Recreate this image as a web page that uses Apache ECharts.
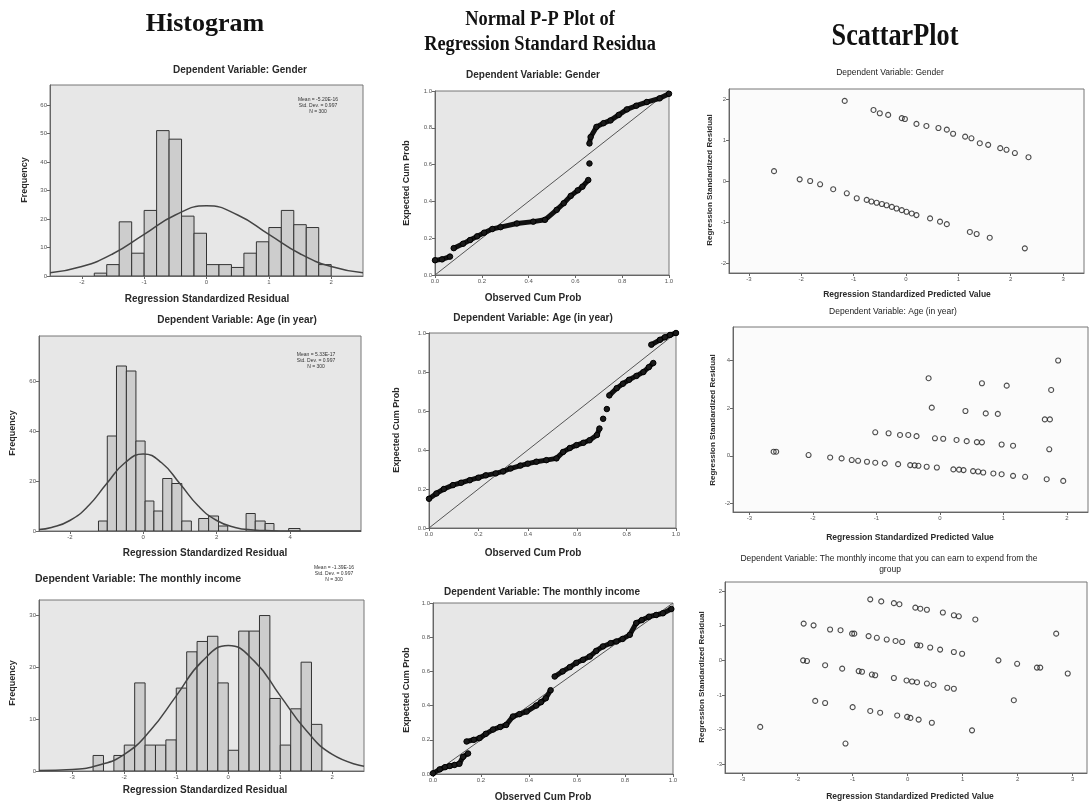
<!DOCTYPE html>
<html><head><meta charset="utf-8">
<script src="https://cdn.jsdelivr.net/npm/echarts@6/dist/echarts.min.js"></script>
<style>html,body{margin:0;padding:0;background:#fff}#c{width:1089px;height:805px}</style>
</head><body><div id="c"></div>
<script>
// ---------- Histogram data (bin edges + frequencies) ----------
const genderHistEdges = [-1.8,-1.6,-1.4,-1.2,-1.0,-0.8,-0.6,-0.4,-0.2,0,0.2,0.4,0.6,0.8,1.0,1.2,1.4,1.6,1.8,2.0];
const genderHistCounts = [1,4,19,8,23,51,48,21,15,4,4,3,8,12,17,23,18,17,4];
const genderCurveX = [-2.51,-2,-1.5,-1,-0.5,0,0.5,1,1.5,2,2.51];
const genderCurveY = [1.1,3.3,7.8,14.6,21.4,24.6,21.4,14.6,7.8,3.3,1.1];

const ageHistEdges = [-1.22,-0.98,-0.73,-0.46,-0.20,0.05,0.29,0.53,0.78,1.05,1.31,1.51,1.78,2.05,2.30,2.80,3.05,3.32,3.56,3.96,4.27];
const ageHistCounts = [4,38,66,64,36,12,8,21,19,4,0,5,6,2,0,7,4,3,0,1];
const ageCurveX = [-2.84,-2.5,-2,-1.5,-1,-0.5,0,0.5,1,1.5,2,2.5,3,3.5,4,5,5.93];
const ageCurveY = [0.6,1.4,4.2,10,18.9,27.3,30.8,27.3,18.9,10,4.2,1.4,0.4,0.1,0,0,0];

const incomeHistEdges = [-2.6,-2.4,-2.2,-2.0,-1.8,-1.6,-1.4,-1.2,-1.0,-0.8,-0.6,-0.4,-0.2,0,0.2,0.4,0.6,0.8,1.0,1.2,1.4,1.6,1.8];
const incomeHistCounts = [3,0,3,5,17,5,5,6,16,23,25,26,17,4,27,27,30,14,5,12,21,9];
const incomeCurveX = [-3.64,-3,-2.5,-2,-1.5,-1,-0.5,0,0.5,1,1.5,2,2.61];
const incomeCurveY = [0.1,0.3,1.1,3.2,7.8,14.5,21.2,24.2,21.2,14.5,7.8,3.2,0.9];

const genderStats = ['Mean = -5.20E-16','Std. Dev. = 0.997','N = 300'];
const ageStats = ['Mean = 5.33E-17','Std. Dev. = 0.997','N = 300'];
const incomeStats = ['Mean = -1.39E-16','Std. Dev. = 0.997','N = 300'];

// ---------- Normal P-P data [observed, expected]; null = gap ----------
const ppGender = [[0,0.08],[0.03,0.085],[0.064,0.10],null,[0.08,0.146],[0.12,0.17],[0.15,0.19],[0.18,0.21],[0.21,0.23],[0.245,0.25],[0.28,0.26],[0.35,0.28],[0.42,0.29],[0.47,0.30],[0.52,0.354],[0.55,0.39],[0.58,0.43],[0.61,0.46],[0.63,0.48],[0.655,0.516],null,[0.66,0.606],null,[0.66,0.715],[0.665,0.75],[0.69,0.805],[0.72,0.825],[0.75,0.84],[0.785,0.87],[0.82,0.90],[0.86,0.92],[0.905,0.94],[0.96,0.96],[1.0,0.985]];
const ppAge = [[0,0.15],[0.03,0.177],[0.06,0.2],[0.097,0.22],[0.13,0.232],[0.165,0.245],[0.2,0.258],[0.23,0.27],[0.27,0.28],[0.30,0.29],[0.33,0.305],[0.37,0.32],[0.40,0.33],[0.435,0.34],[0.475,0.348],[0.516,0.357],[0.543,0.39],[0.57,0.41],[0.597,0.425],[0.625,0.437],[0.65,0.45],[0.68,0.477],[0.69,0.51],null,[0.705,0.56],null,[0.72,0.61],null,[0.73,0.68],[0.76,0.717],[0.785,0.74],[0.81,0.76],[0.84,0.78],[0.868,0.80],[0.89,0.825],[0.908,0.846],null,[0.90,0.94],[0.935,0.965],[0.955,0.978],[0.976,0.99],[1.0,1.0]];
const ppIncome = [[0,0.004],[0.028,0.027],[0.05,0.04],[0.07,0.047],[0.09,0.053],[0.11,0.06],[0.125,0.10],[0.146,0.12],null,[0.14,0.19],[0.17,0.2],[0.194,0.21],[0.22,0.235],[0.25,0.26],[0.28,0.275],[0.305,0.287],[0.333,0.336],[0.36,0.35],[0.39,0.365],[0.43,0.40],[0.45,0.42],[0.47,0.443],[0.49,0.49],null,[0.507,0.57],[0.54,0.60],[0.57,0.625],[0.597,0.65],[0.625,0.668],[0.653,0.687],[0.68,0.72],[0.708,0.746],[0.74,0.765],[0.764,0.775],[0.79,0.79],[0.82,0.814],[0.847,0.883],[0.87,0.9],[0.90,0.92],[0.93,0.93],[0.958,0.94],[0.993,0.965]];
const ppDiagonal = [0, 1];

// ---------- Scatter data [predicted, residual] ----------
const scGender = [[-1.17,1.95],[-0.62,1.73],[-0.5,1.65],[-0.34,1.61],[-0.08,1.53],[-0.02,1.51],[0.2,1.39],[0.39,1.34],[0.62,1.29],[0.78,1.25],[0.9,1.15],[1.13,1.08],[1.25,1.04],[1.41,0.92],[1.57,0.88],[1.8,0.80],[1.92,0.76],[2.08,0.68],[2.34,0.58],
  [-2.52,0.24],[-2.03,0.04],[-1.83,0.0],[-1.64,-0.08],[-1.39,-0.2],[-1.13,-0.30],[-0.94,-0.42],[-0.75,-0.46],[-0.66,-0.50],[-0.56,-0.53],[-0.46,-0.56],[-0.37,-0.59],[-0.27,-0.63],[-0.18,-0.67],[-0.08,-0.71],[0.01,-0.75],[0.11,-0.79],[0.2,-0.83],[0.46,-0.91],[0.65,-0.99],[0.78,-1.05],[1.22,-1.24],[1.35,-1.29],[1.6,-1.38],[2.27,-1.64]];
const scAge = [[-2.62,0.17],[-2.58,0.17],[-2.07,0.03],[-1.73,-0.07],[-1.55,-0.11],[-1.39,-0.18],[-1.29,-0.21],[-1.15,-0.25],[-1.02,-0.29],[-0.87,-0.32],[-0.66,-0.35],[-0.47,-0.39],[-0.40,-0.40],[-0.34,-0.42],[-0.21,-0.46],[-0.05,-0.49],[0.21,-0.57],[0.30,-0.58],[0.37,-0.60],[0.52,-0.64],[0.60,-0.66],[0.68,-0.70],[0.84,-0.74],[0.97,-0.77],[1.15,-0.84],[1.34,-0.88],[1.68,-0.98],[1.94,-1.05],
  [-1.02,0.98],[-0.81,0.94],[-0.63,0.87],[-0.5,0.87],[-0.37,0.82],[-0.08,0.73],[0.05,0.71],[0.26,0.66],[0.42,0.61],[0.58,0.57],[0.66,0.56],[0.97,0.47],[1.15,0.42],[1.72,0.27],
  [-0.18,3.24],[-0.13,2.01],[0.40,1.87],[0.66,3.03],[0.72,1.77],[0.91,1.75],[1.05,2.93],[1.65,1.52],[1.73,1.52],[1.75,2.75],[1.86,3.98]];
const scIncome = [[-0.68,1.76],[-0.48,1.70],[-0.25,1.65],[-0.15,1.62],[0.14,1.52],[0.23,1.49],[0.35,1.46],[0.64,1.38],[0.84,1.30],[0.93,1.27],[1.23,1.18],
  [-1.89,1.06],[-1.71,1.01],[-1.41,0.89],[-1.22,0.87],[-1.01,0.77],[-0.97,0.77],[-0.71,0.70],[-0.56,0.65],[-0.38,0.60],[-0.22,0.56],[-0.10,0.53],[0.17,0.44],[0.23,0.43],[0.41,0.37],[0.59,0.31],[0.84,0.24],[0.99,0.19],
  [-1.9,0.0],[-1.83,-0.02],[-1.50,-0.14],[-1.19,-0.24],[-0.89,-0.31],[-0.83,-0.33],[-0.65,-0.41],[-0.59,-0.43],[-0.25,-0.51],[-0.02,-0.58],[0.08,-0.61],[0.17,-0.63],[0.35,-0.67],[0.47,-0.71],[0.72,-0.79],[0.84,-0.82],
  [-1.68,-1.17],[-1.50,-1.23],[-1.0,-1.35],[-0.68,-1.46],[-0.50,-1.51],[-0.19,-1.59],[-0.01,-1.63],[0.05,-1.66],[0.2,-1.71],[0.44,-1.80],
  [-2.68,-1.92],[-1.13,-2.40],[1.17,-2.02],[1.65,0.0],[1.99,-0.10],[2.35,-0.21],[2.41,-0.21],[2.91,-0.38],[1.93,-1.15],[2.70,0.77]];

// ---------- tick labels ----------
const ticksGenderHistX = [-2,-1,0,1,2], ticksGenderHistY = [0,10,20,30,40,50,60];
const ticksAgeHistX = [-2,0,2,4], ticksAgeHistY = [0,20,40,60];
const ticksIncomeHistX = [-3,-2,-1,0,1,2], ticksIncomeHistY = [0,10,20,30];
const ticksPP = [0,0.2,0.4,0.6,0.8,1.0];
const ticksScGenderX = [-3,-2,-1,0,1,2,3], ticksScGenderY = [-2,-1,0,1,2];
const ticksScAgeX = [-3,-2,-1,0,1,2], ticksScAgeY = [-2,0,2,4];
const ticksScIncomeX = [-3,-2,-1,0,1,2,3], ticksScIncomeY = [-3,-2,-1,0,1,2];

// ---------- layout ----------
const grids = [
  {left:50, top:85, width:313, height:191},
  {left:39, top:336, width:322, height:195},
  {left:39, top:600, width:325, height:171},
  {left:435, top:91, width:234, height:184},
  {left:429, top:333, width:247, height:195},
  {left:433, top:603, width:240, height:171},
  {left:729, top:89, width:355, height:184},
  {left:733, top:327, width:355, height:185},
  {left:725, top:582, width:362, height:191}
].map((g,i)=>Object.assign(g,{show:true, borderColor:'#777', borderWidth:1,
   backgroundColor: i<6 ? '#e7e7e7' : '#fbfbfb'}));

function axis(gi, min, max, ticks, fmt){
  return {type:'value', gridIndex:gi, min, max,
    axisLine:{show:true, onZero:false, lineStyle:{color:'#666', width:1}},
    axisTick:{show:true, length:3, customValues:ticks, lineStyle:{color:'#666'}},
    axisLabel:{customValues:ticks, fontSize:6, color:'#555', margin:3, fontFamily:'Liberation Sans', formatter:fmt},
    splitLine:{show:false}};
}
const f0 = v => String(Math.round(v*100)/100);
const f1 = v => v.toFixed(1);

const xAxes = [
  axis(0,-2.51,2.51,ticksGenderHistX,f0), axis(1,-2.84,5.93,ticksAgeHistX,f0), axis(2,-3.64,2.61,ticksIncomeHistX,f0),
  axis(3,0,1,ticksPP,f1), axis(4,0,1,ticksPP,f1), axis(5,0,1,ticksPP,f1),
  axis(6,-3.38,3.4,ticksScGenderX,f0), axis(7,-3.26,2.33,ticksScAgeX,f0), axis(8,-3.32,3.26,ticksScIncomeX,f0)];
const yAxes = [
  axis(0,0,67,ticksGenderHistY,f0), axis(1,0,78,ticksAgeHistY,f0), axis(2,0,33,ticksIncomeHistY,f0),
  axis(3,0,1,ticksPP,f1), axis(4,0,1,ticksPP,f1), axis(5,0,1,ticksPP,f1),
  axis(6,-2.24,2.24,ticksScGenderY,f0), axis(7,-2.35,5.38,ticksScAgeY,f0), axis(8,-3.25,2.26,ticksScIncomeY,f0)];

function histSeries(gi, edges, counts){
  const data = [];
  counts.forEach((c,i)=>{ if(c>0) data.push([edges[i], edges[i+1], c]); });
  return {type:'custom', xAxisIndex:gi, yAxisIndex:gi, data, clip:true,
    encode:{x:[0,1], y:2},
    renderItem:(params, api)=>{
      const p0 = api.coord([api.value(0), api.value(2)]);
      const p1 = api.coord([api.value(1), 0]);
      return {type:'rect', shape:{x:p0[0], y:p0[1], width:p1[0]-p0[0], height:p1[1]-p0[1]},
        style:{fill:'#cdcdcd', stroke:'#333', lineWidth:1}};
    }};
}
function curveSeries(gi, xs, ys){
  return {type:'line', xAxisIndex:gi, yAxisIndex:gi, smooth:0.5, symbol:'none', z:5,
    lineStyle:{color:'#444', width:1.5}, data: xs.map((x,i)=>[x, ys[i]])};
}
function ppSeries(gi, pts){
  const out = [{type:'line', xAxisIndex:gi, yAxisIndex:gi, symbol:'none', z:2,
     lineStyle:{color:'#555', width:1}, data: ppDiagonal.map(v=>[v,v])}];
  let seg = [];
  const flush = () => { if(seg.length){ out.push({type:'line', xAxisIndex:gi, yAxisIndex:gi, z:3,
      symbol:'circle', symbolSize:5.5, showSymbol:true, itemStyle:{color:'#1a1a1a', borderColor:'#000', borderWidth:1},
      lineStyle:{color:'#111', width:5}, data:seg}); seg=[]; } };
  pts.forEach(p=>{ if(p===null) flush(); else seg.push(p); });
  flush();
  return out;
}
function scSeries(gi, pts){
  return {type:'scatter', xAxisIndex:gi, yAxisIndex:gi, symbol:'circle', symbolSize:5, data:pts,
    itemStyle:{color:'rgba(255,255,255,0)', borderColor:'#222', borderWidth:1.1}};
}

const series = [
  histSeries(0, genderHistEdges, genderHistCounts), curveSeries(0, genderCurveX, genderCurveY),
  histSeries(1, ageHistEdges, ageHistCounts), curveSeries(1, ageCurveX, ageCurveY),
  histSeries(2, incomeHistEdges, incomeHistCounts), curveSeries(2, incomeCurveX, incomeCurveY),
  ...ppSeries(3, ppGender), ...ppSeries(4, ppAge), ...ppSeries(5, ppIncome),
  scSeries(6, scGender), scSeries(7, scAge), scSeries(8, scIncome)
];

// ---------- texts ----------
function txt(x, y, text, size, opts){
  opts = opts || {};
  return {type:'text', x, y, rotation: opts.rot || 0, scaleX: opts.sx || 1, z:100,
    style:{text, fontSize:size, fontWeight: opts.w || 'bold', fontFamily: opts.ff || 'Liberation Sans',
      fill: opts.c || '#2a2a2a', align:'center', verticalAlign:'middle'}};
}
const serif = {ff:'Liberation Serif', c:'#111', w:'bold'};
const R = Math.PI/2;
const graphic = [
  txt(205, 24, 'Histogram', 26, Object.assign({sx:1.0}, serif)),
  txt(540, 20, 'Normal P-P Plot of', 20, Object.assign({sx:0.92}, serif)),
  txt(540, 45, 'Regression Standard Residua', 20, Object.assign({sx:0.92}, serif)),
  txt(895, 37, 'ScattarPlot', 32, Object.assign({sx:0.82}, serif)),

  txt(240, 70, 'Dependent Variable: Gender', 10),
  txt(237, 320, 'Dependent Variable: Age (in year)', 10),
  txt(138, 579, 'Dependent Variable: The monthly income', 10.5),
  txt(533, 75, 'Dependent Variable: Gender', 10),
  txt(533, 318, 'Dependent Variable: Age (in year)', 10),
  txt(542, 592, 'Dependent Variable: The monthly income', 10),
  txt(890, 73, 'Dependent Variable: Gender', 8.5, {w:'normal', c:'#222'}),
  txt(893, 312, 'Dependent Variable: Age (in year)', 8.5, {w:'normal', c:'#222'}),
  txt(889, 559, 'Dependent Variable: The monthly income that you can earn to expend from the', 8.5, {w:'normal', c:'#222'}),
  txt(890, 570, 'group', 8.5, {w:'normal', c:'#222'}),

  txt(207, 299, 'Regression Standardized Residual', 10),
  txt(205, 553, 'Regression Standardized Residual', 10),
  txt(205, 790, 'Regression Standardized Residual', 10),
  txt(533, 298, 'Observed Cum Prob', 10),
  txt(533, 553, 'Observed Cum Prob', 10),
  txt(543, 797, 'Observed Cum Prob', 10),
  txt(907, 295, 'Regression Standardized Predicted Value', 8.5),
  txt(910, 538, 'Regression Standardized Predicted Value', 8.5),
  txt(910, 797, 'Regression Standardized Predicted Value', 8.5),

  txt(25, 180, 'Frequency', 9, {rot:R}),
  txt(13, 433, 'Frequency', 9, {rot:R}),
  txt(13, 683, 'Frequency', 9, {rot:R}),
  txt(407, 183, 'Expected Cum Prob', 9, {rot:R}),
  txt(397, 430, 'Expected Cum Prob', 9, {rot:R}),
  txt(407, 690, 'Expected Cum Prob', 9, {rot:R}),
  txt(710, 180, 'Regression Standardized Residual', 8, {rot:R}),
  txt(713, 420, 'Regression Standardized Residual', 8, {rot:R}),
  txt(702, 677, 'Regression Standardized Residual', 8, {rot:R})
];
function statBlock(x, y, lines){
  lines.forEach((l,i)=>graphic.push(txt(x, y + i*6, l, 5, {w:'normal', c:'#333'})));
}
statBlock(318, 100, genderStats);
statBlock(316, 355, ageStats);
statBlock(334, 568, incomeStats);

const chart = echarts.init(document.getElementById('c'), null, {renderer:'canvas'});
chart.setOption({animation:false, backgroundColor:'#fff', grid:grids, xAxis:xAxes, yAxis:yAxes, series, graphic});
</script></body></html>
